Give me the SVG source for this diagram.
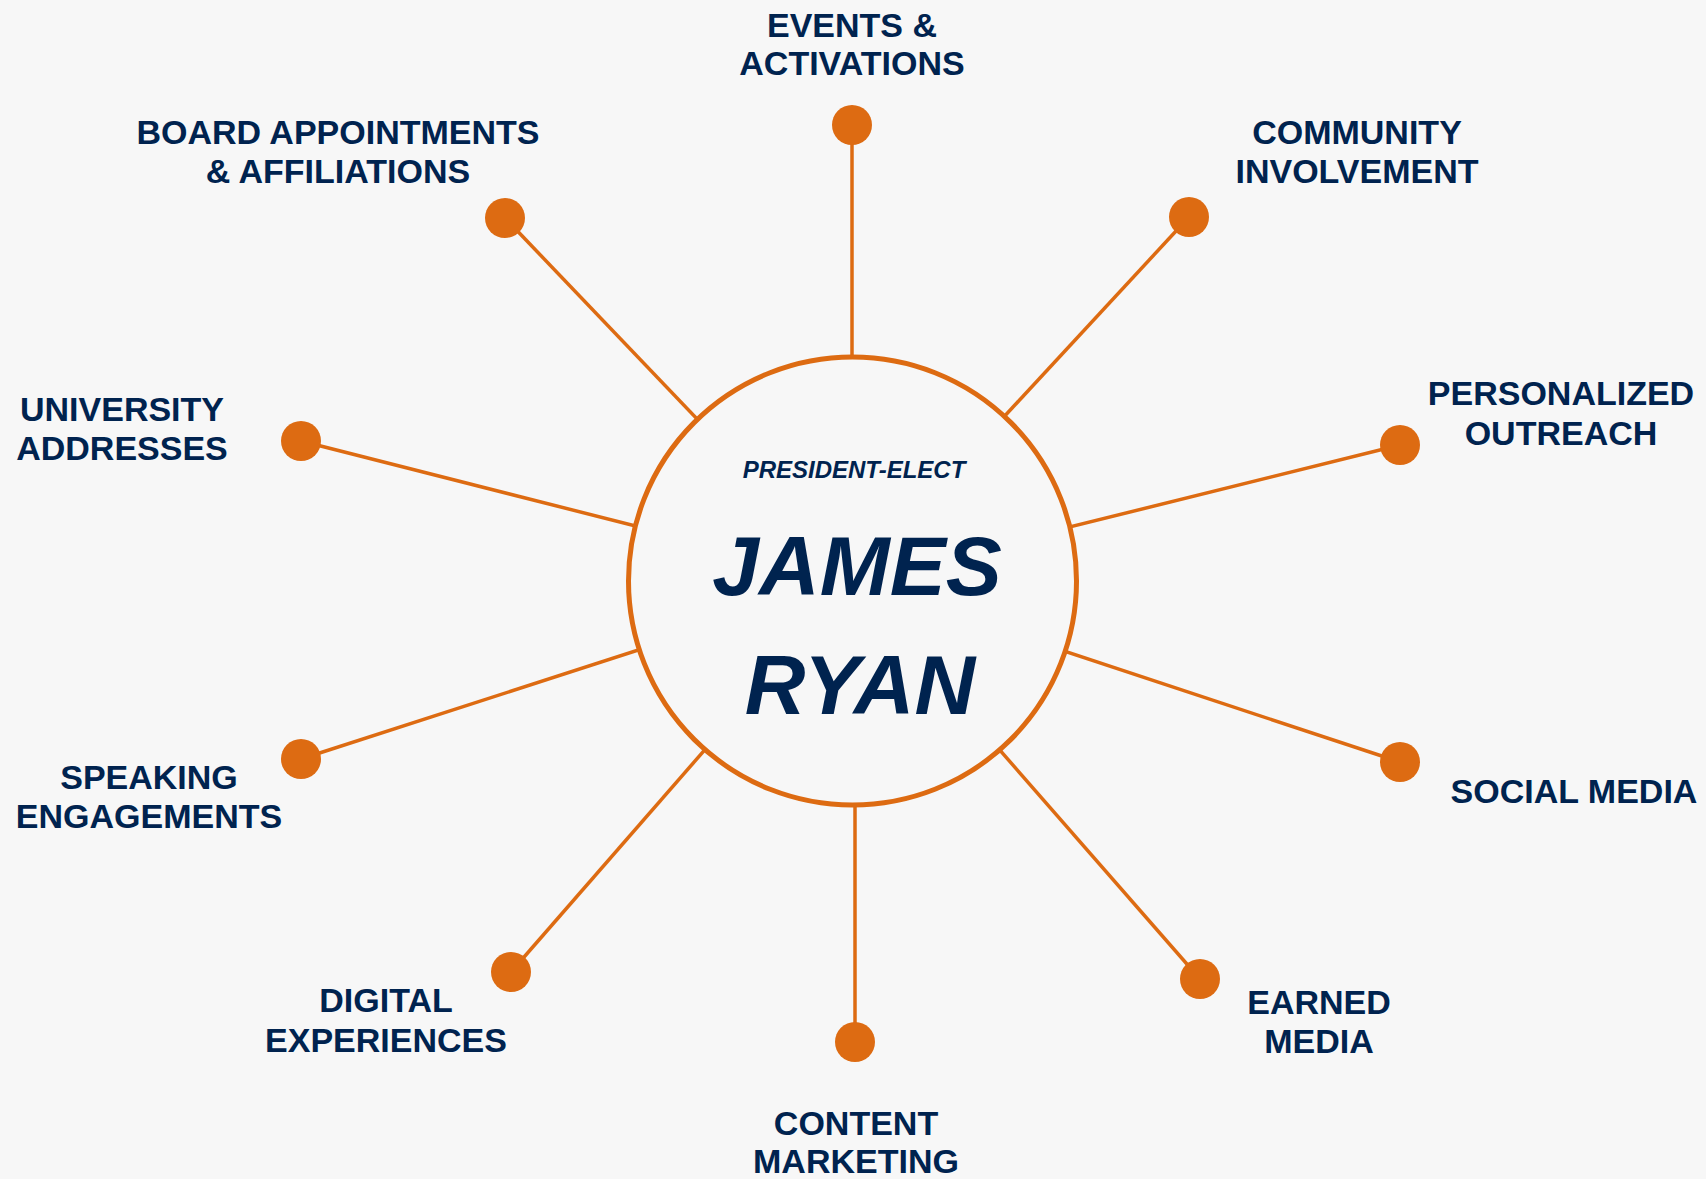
<svg xmlns="http://www.w3.org/2000/svg" width="1706" height="1179" viewBox="0 0 1706 1179">
<style>
.conn{stroke:#DD6B12;stroke-width:3.5;fill:none}
.dot{fill:#DD6B12}
.lbl{font-family:"Liberation Sans",Arial,sans-serif;font-weight:bold;font-size:34px;fill:#00234F;text-anchor:middle}
.ctr{font-family:"Liberation Sans",Arial,sans-serif;font-weight:bold;font-style:italic;fill:#00234F;text-anchor:middle}
</style>
<rect width="1706" height="1179" fill="#F7F7F7"/>
<g id="connectors">
<line class="conn" x1="852" y1="125" x2="852" y2="581"/>
<line class="conn" x1="505" y1="218" x2="852" y2="581"/>
<line class="conn" x1="1189" y1="217" x2="852" y2="581"/>
<line class="conn" x1="301" y1="441" x2="852" y2="581"/>
<line class="conn" x1="1400" y1="445" x2="852" y2="581"/>
<line class="conn" x1="301" y1="759" x2="852" y2="581"/>
<line class="conn" x1="1400" y1="762" x2="852" y2="581"/>
<line class="conn" x1="511" y1="972" x2="852" y2="581"/>
<line class="conn" x1="1200" y1="979" x2="852" y2="581"/>
<line class="conn" x1="855" y1="1042" x2="855" y2="581"/>
</g>
<g id="center">
<circle cx="852.5" cy="581" r="224" fill="#F7F7F7" stroke="#DD6B12" stroke-width="5"/>
<text class="ctr" x="854" y="478" font-size="24">PRESIDENT-ELECT</text>
<text class="ctr" x="857" y="595" font-size="84">JAMES</text>
<text class="ctr" x="860" y="714" font-size="84">RYAN</text>
</g>
<g id="events"><circle class="dot" cx="852" cy="125" r="20"/><text class="lbl" x="852" y="37">EVENTS &amp;</text><text class="lbl" x="852" y="75">ACTIVATIONS</text></g>
<g id="board"><circle class="dot" cx="505" cy="218" r="20"/><text class="lbl" x="338" y="144">BOARD APPOINTMENTS</text><text class="lbl" x="338" y="183">&amp; AFFILIATIONS</text></g>
<g id="community"><circle class="dot" cx="1189" cy="217" r="20"/><text class="lbl" x="1357" y="144">COMMUNITY</text><text class="lbl" x="1357" y="183">INVOLVEMENT</text></g>
<g id="university"><circle class="dot" cx="301" cy="441" r="20"/><text class="lbl" x="122" y="421">UNIVERSITY</text><text class="lbl" x="122" y="460">ADDRESSES</text></g>
<g id="personalized"><circle class="dot" cx="1400" cy="445" r="20"/><text class="lbl" x="1561" y="405">PERSONALIZED</text><text class="lbl" x="1561" y="445">OUTREACH</text></g>
<g id="speaking"><circle class="dot" cx="301" cy="759" r="20"/><text class="lbl" x="149" y="789">SPEAKING</text><text class="lbl" x="149" y="828">ENGAGEMENTS</text></g>
<g id="social"><circle class="dot" cx="1400" cy="762" r="20"/><text class="lbl" x="1574" y="803">SOCIAL MEDIA</text></g>
<g id="digital"><circle class="dot" cx="511" cy="972" r="20"/><text class="lbl" x="386" y="1012">DIGITAL</text><text class="lbl" x="386" y="1052">EXPERIENCES</text></g>
<g id="earned"><circle class="dot" cx="1200" cy="979" r="20"/><text class="lbl" x="1319" y="1014">EARNED</text><text class="lbl" x="1319" y="1053">MEDIA</text></g>
<g id="content"><circle class="dot" cx="855" cy="1042" r="20"/><text class="lbl" x="856" y="1135">CONTENT</text><text class="lbl" x="856" y="1173">MARKETING</text></g>
</svg>
